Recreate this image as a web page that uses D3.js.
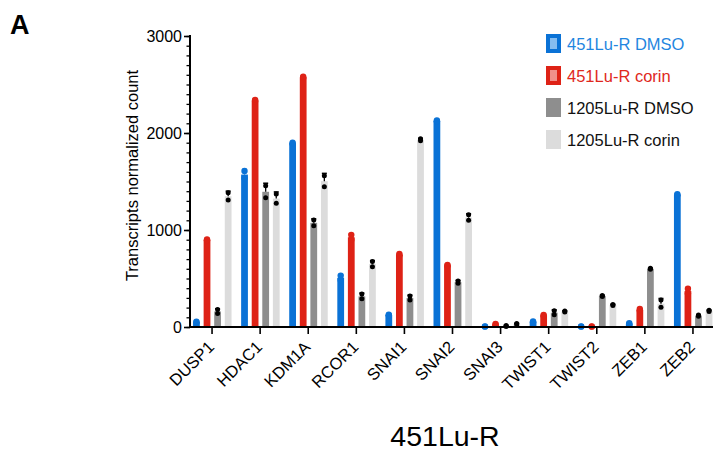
<!DOCTYPE html>
<html>
<head>
<meta charset="utf-8">
<script src="https://cdn.jsdelivr.net/npm/d3@7/dist/d3.min.js"></script>
<style>
  html, body { margin: 0; padding: 0; background: #fff; }
  svg { display: block; font-family: "Liberation Sans", Arial, sans-serif; }
</style>
</head>
<body>
<div id="chart"></div>
<script>
// genes on the x axis
const genes = ['DUSP1', 'HDAC1', 'KDM1A', 'RCOR1', 'SNAI1', 'SNAI2', 'SNAI3', 'TWIST1', 'TWIST2', 'ZEB1', 'ZEB2'];
const seriesNames = ['451Lu-R DMSO', '451Lu-R corin', '1205Lu-R DMSO', '1205Lu-R corin'];
const yTicks = [0, 1000, 2000, 3000];

// two replicates per gene
const lu451Dmso = [[48, 55], [1535, 1608], [1890, 1900], [485, 530], [120, 128], [2120, 2130], [4, 6], [50, 58], [4, 6], [30, 38], [1360, 1370]];
const lu451Corin = [[895, 903], [2330, 2342], [2570, 2580], [900, 950], [740, 752], [632, 640], [25, 32], [115, 125], [4, 6], [170, 185], [345, 395]];
const lu1205Dmso = [[140, 180], [1332, 1456], [1045, 1103], [292, 340], [278, 320], [450, 475], [5, 15], [127, 168], [315, 325], [595, 605], [112, 125]];
const lu1205Corin = [[1310, 1385], [1275, 1372], [1447, 1560], [622, 674], [1920, 1940], [1100, 1156], [22, 35], [155, 165], [222, 232], [203, 278], [160, 172]];

const W = 713;
const H = 453;
const AXIS_X = 190;
const AXIS_Y = 327;

// bar colour, dot/error colour, legend text colour, legend inner swatch
const STYLES = [
  { fill: '#0a72d6', mark: '#0a72d6', text: '#1f86e0', inner: '#86bdf0' },
  { fill: '#de2216', mark: '#de2216', text: '#e0281c', inner: '#f0908a' },
  { fill: '#8e8e8e', mark: '#000', text: '#111', inner: null },
  { fill: '#dcdcdc', mark: '#000', text: '#111', inner: null },
];

const replicates = [lu451Dmso, lu451Corin, lu1205Dmso, lu1205Corin];

const rows = [];
replicates.forEach((series, s) => {
  series.forEach((vals, g) => {
    rows.push({
      gene: genes[g],
      series: seriesNames[s],
      s,
      vals,
      mean: d3.mean(vals),
      sd: d3.deviation(vals),
    });
  });
});

const svg = d3.select('#chart').append('svg')
  .attr('width', W)
  .attr('height', H);

const x = d3.scaleBand().domain(genes).range([188, 717]).padding(0);
const xs = d3.scaleBand().domain(seriesNames).range([-19, 19.5]).paddingInner(0.36);
const y = d3.scaleLinear().domain([0, 3000]).range([AXIS_Y, 36]);

const barX = (d) => x(d.gene) + x.bandwidth() / 2 + xs(d.series);
const barCx = (d) => barX(d) + xs.bandwidth() / 2;

// bars
svg.append('g').selectAll('rect')
  .data(rows)
  .join('rect')
  .attr('x', barX)
  .attr('y', (d) => y(d.mean))
  .attr('width', xs.bandwidth())
  .attr('height', (d) => AXIS_Y - y(d.mean))
  .attr('fill', (d) => STYLES[d.s].fill);

// upward error bars (mean + SD)
const errG = svg.append('g');
errG.selectAll('line.err')
  .data(rows)
  .join('line')
  .attr('class', 'err')
  .attr('x1', barCx).attr('x2', barCx)
  .attr('y1', (d) => y(d.mean))
  .attr('y2', (d) => y(d.mean + d.sd))
  .attr('stroke', (d) => STYLES[d.s].mark)
  .attr('stroke-width', 1.3);
errG.selectAll('line.cap')
  .data(rows)
  .join('line')
  .attr('class', 'cap')
  .attr('x1', (d) => barCx(d) - 2.5).attr('x2', (d) => barCx(d) + 2.5)
  .attr('y1', (d) => y(d.mean + d.sd))
  .attr('y2', (d) => y(d.mean + d.sd))
  .attr('stroke', (d) => STYLES[d.s].mark)
  .attr('stroke-width', 1.6);

// replicate dots
svg.append('g').selectAll('circle')
  .data(rows.flatMap((d) => d.vals.map((v) => ({ ...d, v }))))
  .join('circle')
  .attr('cx', barCx)
  .attr('cy', (d) => y(d.v))
  .attr('r', (d) => (d.s < 2 ? 3.2 : 2.5))
  .attr('fill', (d) => STYLES[d.s].mark);

// y axis
const yAxis = svg.append('g').attr('transform', `translate(${AXIS_X},0)`);
yAxis.call(d3.axisLeft(y).tickValues(d3.range(0, 3001, 100)).tickSize(3.5).tickFormat(''))
  .call((g) => g.select('.domain').remove())
  .call((g) => g.selectAll('line').attr('stroke', '#000').attr('stroke-width', 1.3));
yAxis.append('g')
  .call(d3.axisLeft(y).tickValues(yTicks).tickSize(6).tickPadding(2).tickFormat(d3.format('d')))
  .call((g) => g.select('.domain').remove())
  .call((g) => g.selectAll('line').attr('stroke', '#000').attr('stroke-width', 1.6))
  .call((g) => g.selectAll('text')
    .attr('fill', '#000')
    .attr('font-size', '16px')
    .attr('font-family', '"Liberation Sans", Arial, sans-serif'));
svg.append('line')
  .attr('x1', AXIS_X).attr('x2', AXIS_X)
  .attr('y1', y(3000) - 1).attr('y2', AXIS_Y + 1)
  .attr('stroke', '#000').attr('stroke-width', 2);

// x axis, labels turned 45 degrees
const xAxis = svg.append('g').attr('transform', `translate(0,${AXIS_Y})`);
xAxis.call(d3.axisBottom(x).tickSize(7))
  .call((g) => g.select('.domain').remove())
  .call((g) => g.selectAll('line').attr('stroke', '#000').attr('stroke-width', 1.6))
  .call((g) => g.selectAll('text')
    .attr('fill', '#000')
    .attr('font-size', '16.5px')
    .attr('font-family', '"Liberation Sans", Arial, sans-serif')
    .attr('text-anchor', 'end')
    .attr('x', 0).attr('y', 0)
    .attr('dy', '0.35em')
    .attr('transform', 'translate(-1,17) rotate(-45)'));
svg.append('line')
  .attr('x1', AXIS_X - 1).attr('x2', W)
  .attr('y1', AXIS_Y).attr('y2', AXIS_Y)
  .attr('stroke', '#000').attr('stroke-width', 2);

// axis title
svg.append('text')
  .attr('transform', `translate(138,${(y(3000) + AXIS_Y) / 2 - 6}) rotate(-90)`)
  .attr('text-anchor', 'middle')
  .attr('font-size', '16.5px')
  .attr('fill', '#000')
  .text('Transcripts normalized count');

// panel letter and bottom label
svg.append('text')
  .attr('x', 10).attr('y', 34)
  .attr('font-size', '27px')
  .attr('font-weight', 'bold')
  .text('A');

svg.append('text')
  .attr('x', 445).attr('y', 446)
  .attr('text-anchor', 'middle')
  .attr('font-size', '28.5px')
  .text('451Lu-R');

// legend
const legend = svg.append('g').attr('transform', 'translate(546,34)');
const item = legend.selectAll('g')
  .data(seriesNames)
  .join('g')
  .attr('transform', (d, i) => `translate(0,${i * 32})`);
item.append('rect')
  .attr('width', 15).attr('height', 19)
  .attr('fill', (d, i) => STYLES[i].fill);
item.filter((d, i) => STYLES[i].inner)
  .append('rect')
  .attr('x', 4).attr('y', 4)
  .attr('width', 7).attr('height', 11)
  .attr('fill', (d) => STYLES[seriesNames.indexOf(d)].inner);
item.append('text')
  .attr('x', 21).attr('y', 15.5)
  .attr('font-size', '16.5px')
  .attr('fill', (d, i) => STYLES[i].text)
  .text((d) => d);
</script>
</body>
</html>
